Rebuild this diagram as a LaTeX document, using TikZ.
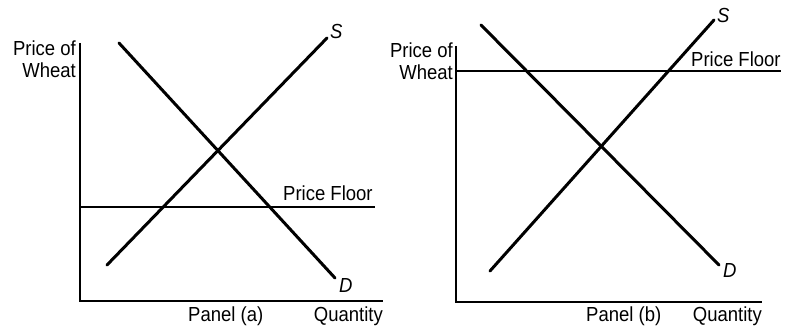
\documentclass[tikz,border=0pt]{standalone}
\usepackage{fontspec}
\setmainfont{Liberation Sans}
\newcommand{\tallt}[1]{\scalebox{1}[1.1]{#1}}
\begin{document}
\begin{tikzpicture}[x=1pt,y=-1pt,
  axisline/.style={line width=2pt},
  curveline/.style={line width=3pt,line cap=round},
  floorline/.style={line width=1.8pt},
  lbl/.style={font=\fontsize{18.5}{20}\selectfont,inner sep=0pt},
  curvelbl/.style={font=\fontsize{18.5}{20}\selectfont\itshape,inner sep=0pt}]
\useasboundingbox (0,0) rectangle (788,326);
% ---------- Panel (a)
\coordinate (aTop) at (80,43);
\coordinate (aO) at (80,301);
\coordinate (aX) at (383,301);
\coordinate (aD1) at (119,43);
\coordinate (aD2) at (335,278);
\coordinate (aS1) at (107,265);
\coordinate (aS2) at (327,38);
\coordinate (aF1) at (80,207);
\coordinate (aF2) at (375,207);
\draw[axisline] (aTop) -- (aO) -- (aX);
\draw[floorline] (aF1) -- (aF2);
\draw[curveline] (aD1) -- (aD2);
\draw[curveline] (aS1) -- (aS2);
\node[lbl,anchor=base east] (aP1) at (76,56) {\tallt{Price of}};
\node[lbl,anchor=base east] (aP2) at (76,78) {\tallt{Wheat}};
\node[lbl,anchor=base west] (aFl) at (283,201) {\tallt{Price Floor}};
\node[curvelbl,anchor=base west] (aSl) at (330,39) {\tallt{S}};
\node[curvelbl,anchor=base west] (aDl) at (339,292) {\tallt{D}};
\node[lbl,anchor=base west] (aPan) at (188,321) {\tallt{Panel (a)}};
\node[lbl,anchor=base east] (aQ) at (383,321) {\tallt{Quantity}};
% ---------- Panel (b)
\coordinate (bTop) at (456,46);
\coordinate (bO) at (456,301.5);
\coordinate (bX) at (762,301.5);
\coordinate (bD1) at (481,25);
\coordinate (bD2) at (719,265);
\coordinate (bS1) at (490,271);
\coordinate (bS2) at (714,20);
\coordinate (bF1) at (456,71);
\coordinate (bF2) at (781,71);
\draw[axisline] (bTop) -- (bO) -- (bX);
\draw[floorline] (bF1) -- (bF2);
\draw[curveline] (bD1) -- (bD2);
\draw[curveline] (bS1) -- (bS2);
\node[lbl,anchor=base east] (bP1) at (453,58) {\tallt{Price of}};
\node[lbl,anchor=base east] (bP2) at (453,80) {\tallt{Wheat}};
\node[lbl,anchor=base west] (bFl) at (691,67) {\tallt{Price Floor}};
\node[curvelbl,anchor=base west] (bSl) at (717,22.5) {\tallt{S}};
\node[curvelbl,anchor=base west] (bDl) at (723,277) {\tallt{D}};
\node[lbl,anchor=base west] (bPan) at (586,321) {\tallt{Panel (b)}};
\node[lbl,anchor=base east] (bQ) at (762,321) {\tallt{Quantity}};
\end{tikzpicture}
\end{document}
